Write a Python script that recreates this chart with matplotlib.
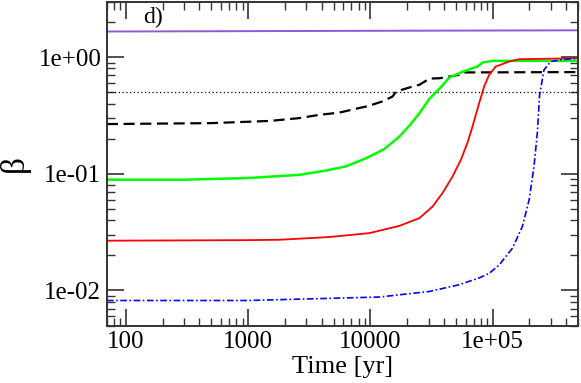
"""
Beta evolution vs time, panel d).
"""
import matplotlib
matplotlib.use('Agg')
import matplotlib.pyplot as plt
from matplotlib.ticker import FuncFormatter, LogLocator
import numpy as np

plt.rcParams['font.family'] = ['Liberation Serif', 'DejaVu Serif']

# purple, nearly constant
t_purple = [70, 5000, 5e5]
b_purple = [1.66, 1.68, 1.70]

# black dashed
t_black = [70, 500, 1500, 2600, 3800, 5600, 7500, 9500, 12500, 15200, 16200,
           22100, 25200, 30400, 36900, 53000, 58500, 5e5]
b_black = [0.267, 0.272, 0.284, 0.30, 0.32, 0.335, 0.36, 0.38, 0.417, 0.46, 0.507,
           0.56, 0.58, 0.655, 0.66, 0.705, 0.74, 0.745]

# green
t_green = [70, 300, 1000, 2630, 4200, 6340, 9230, 13000, 17300, 20800, 25200,
           30400, 36900, 44400, 53300, 68400, 75200, 82600, 100000, 5e5]
b_green = [0.089, 0.089, 0.092, 0.098, 0.106, 0.116, 0.136, 0.163, 0.209, 0.258,
           0.331, 0.44, 0.54, 0.67, 0.729, 0.805, 0.831, 0.9, 0.93, 0.93]

# red
t_red = [70, 1000, 1800, 4600, 9800, 17300, 25200, 32300, 38900, 47000, 55000,
         62300, 68400, 77600, 85200, 93600, 106000, 136000, 164000, 5e5]
b_red = [0.0267, 0.027, 0.0272, 0.0287, 0.031, 0.0358, 0.0417, 0.0525, 0.0684,
         0.0948, 0.132, 0.185, 0.254, 0.404, 0.56, 0.705, 0.831, 0.917, 0.96, 0.98]

# blue dash-dot
t_blue = [70, 1000, 11800, 30400, 53300, 77600, 93600, 113000, 145000, 175000,
          199000, 218000, 232000, 242000, 263000, 298000, 360000, 5e5]
b_blue = [0.0082, 0.0082, 0.00878, 0.0098, 0.0112, 0.0128, 0.0140, 0.0165,
          0.0230, 0.0353, 0.06, 0.116, 0.223, 0.47, 0.778, 0.917, 0.95, 0.98]

beta_crit = 0.5


def x_fmt(v, pos):
    if v >= 1e5:
        return '%.0e' % v
    return '%d' % v


def y_fmt(v, pos):
    return '%.0e' % v


fig = plt.figure(figsize=(5.81, 3.83), dpi=100)
ax = fig.add_axes([0.184, 0.15, 0.811, 0.846])

ax.plot(t_purple, b_purple, color='#8f5ad6', linewidth=1.4)
ax.axhline(beta_crit, color='black', linestyle=(0, (1, 2)), linewidth=0.9)
ax.plot(t_black, b_black, color='black', linestyle=(0, (5, 2.5)), linewidth=1.6)
ax.plot(t_green, b_green, color='#00ff00', linewidth=1.8)
ax.plot(t_red, b_red, color='red', linewidth=1.3)
ax.plot(t_blue, b_blue, color='blue', linestyle=(0, (4, 1.5, 1, 1.5)), linewidth=1.2)

ax.set_xscale('log')
ax.set_yscale('log')
ax.set_xlim(70, 5e5)
ax.set_ylim(0.005, 3.0)

ax.xaxis.set_major_locator(LogLocator(base=10, numticks=10))
ax.xaxis.set_minor_locator(LogLocator(base=10, subs=np.arange(2, 10), numticks=20))
ax.yaxis.set_major_locator(LogLocator(base=10, numticks=10))
ax.yaxis.set_minor_locator(LogLocator(base=10, subs=np.arange(2, 10), numticks=20))
ax.xaxis.set_major_formatter(FuncFormatter(x_fmt))
ax.yaxis.set_major_formatter(FuncFormatter(y_fmt))
ax.xaxis.set_minor_formatter(FuncFormatter(lambda v, p: ''))
ax.yaxis.set_minor_formatter(FuncFormatter(lambda v, p: ''))

ax.tick_params(which='both', direction='in', top=True, right=True,
               color='#333333', labelsize=18)
ax.tick_params(which='major', length=12, width=1.2, pad=4)
ax.tick_params(which='minor', length=6, width=1.0)
for s in ax.spines.values():
    s.set_linewidth(1.4)
    s.set_color('#333333')

ax.set_xlabel('Time [yr]', fontsize=19, labelpad=2)
ax.set_ylabel('β', fontsize=24, labelpad=6)
ax.text(0.076, 0.952, 'd)', transform=ax.transAxes, fontsize=17,
        ha='left', va='center')

plt.savefig('out.png', dpi=100)
plt.close()
